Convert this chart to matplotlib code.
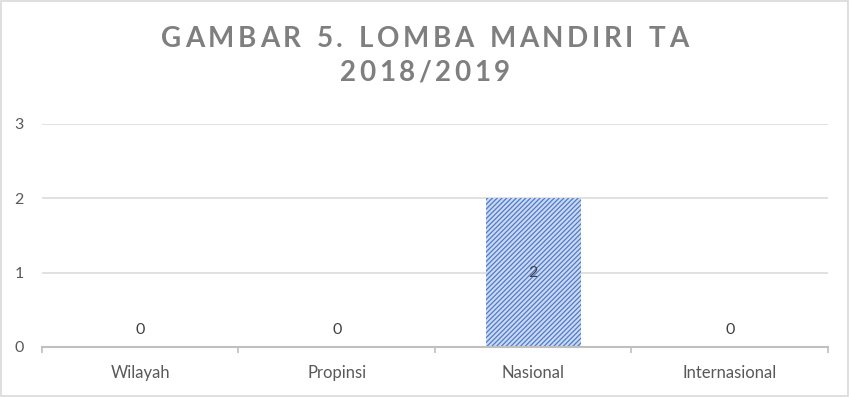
import numpy as np
import matplotlib
matplotlib.use("Agg")
import matplotlib.pyplot as plt
from matplotlib.ticker import FixedLocator
from matplotlib.patches import Rectangle

categories = ["Wilayah", "Propinsi", "Nasional", "Internasional"]
values = [0, 0, 2, 0]
title_lines = ["GAMBAR 5. LOMBA MANDIRI TA", "2018/2019"]

plt.rcParams['font.family'] = ['Lato', 'DejaVu Sans']
plt.rcParams['hatch.linewidth'] = 0.85

fig = plt.figure(figsize=(8.5, 3.97), dpi=100)
ax = fig.add_axes([0.0494, 0.126, 0.9247, 0.562])

x = np.arange(len(categories))
ax.bar(x, values, width=0.485, color='#cbd8f1', edgecolor='#4a77c8',
       linewidth=0, hatch='///////', zorder=3)

# label values (Excel "center" position)
for xi, v in zip(x, values):
    if v > 0:
        ax.text(xi, v / 2, str(v), ha='center', va='center', fontsize=11.5,
                color='#404040', zorder=4)
    else:
        ax.annotate(str(v), (xi, 0), xytext=(0, 7), textcoords='offset points',
                    ha='center', va='bottom', fontsize=11.5, color='#404040')

ax.set_xlim(-0.5, len(categories) - 0.5)
ax.set_ylim(0, 3)
ax.set_yticks([0, 1, 2, 3])
ax.set_xticks(x)
ax.set_xticklabels(categories)
ax.xaxis.set_minor_locator(FixedLocator(np.arange(-0.5, len(categories), 1)))

ax.grid(axis='y', color='#d9d9d9', linewidth=1.1, zorder=0)
ax.set_axisbelow(True)
for s in ['top', 'right', 'left']:
    ax.spines[s].set_visible(False)
ax.spines['bottom'].set_color('#bfbfbf')
ax.spines['bottom'].set_linewidth(1.5)
ax.spines['bottom'].set_zorder(5)

ax.tick_params(axis='y', length=0, pad=13, labelsize=11.5, labelcolor='#595959')
ax.tick_params(axis='x', which='major', length=0, pad=13, labelsize=12,
               labelcolor='#595959')
ax.tick_params(axis='x', which='minor', length=4, width=1.2, color='#bfbfbf')


# title with letter spacing (draw char by char)
def spaced_text(s, yfig, size, spacing_px):
    r = fig.canvas.get_renderer()
    widths = []
    for ch in s:
        t = fig.text(0, 0, ch if ch != ' ' else 'n', fontsize=size, fontweight='bold')
        w = t.get_window_extent(r).width
        if ch == ' ':
            w *= 0.55
        widths.append(w)
        t.remove()
    total = sum(widths) + spacing_px * (len(s) - 1)
    W = fig.bbox.width
    xpos = (W - total) / 2
    for ch, w in zip(s, widths):
        if ch != ' ':
            fig.text(xpos / W, yfig, ch, fontsize=size, fontweight='bold',
                     color='#7f7f7f', ha='left', va='center')
        xpos += w + spacing_px


spaced_text(title_lines[0], 0.902, 20, 3.6)
spaced_text(title_lines[1], 0.817, 20, 3.6)

fig.patches.append(Rectangle((0.001, 0.002), 0.997, 0.995, transform=fig.transFigure,
                             fill=False, edgecolor='#d9d9d9', linewidth=1.2))

fig.savefig("out.png", dpi=100, facecolor='white')
